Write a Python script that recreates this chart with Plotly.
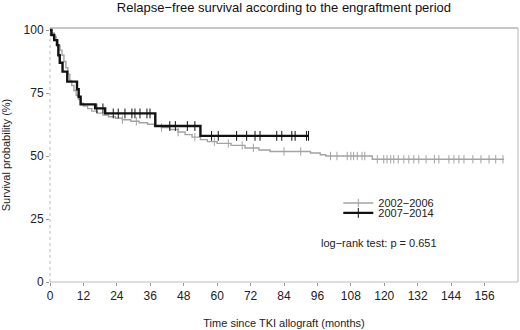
import numpy as np
import plotly.graph_objects as go

# ---- data ----
# 2002-2006 (grey): event times (months) and survival (%) after each drop
g_times = [0, 0.8, 1.5, 2.2, 2.9, 3.6, 4.3, 5.0, 5.7, 6.4, 7.1, 7.8, 8.6, 9.4, 10.2, 11.0,
           12.0, 13.5, 15.0, 17.0, 19.0, 21.0, 23.5, 26.0, 29.0, 32.0, 35.0, 37.5, 40.0,
           43.0, 46.0, 48.5, 51.0, 54.0, 56.5, 60.0, 65.0, 70.0, 75.0, 79.0, 93.5, 97.0,
           99.0, 115.7]
g_surv = [100, 98.8, 97.5, 96, 94, 92, 90, 87.5, 85, 82.5, 80, 78, 76, 74, 72.5, 71,
          69.8, 68.8, 67.8, 67, 66.3, 65.6, 65, 64.4, 63.8, 63.2, 62.6, 62, 61.3,
          60.5, 59.5, 58.5, 57.5, 56.5, 55.7, 55, 54.2, 53.2, 52.4, 51.8, 51.2, 50.5,
          50, 48.7]
g_end = 163
g_censor = [26, 31, 40, 46, 52, 59, 64, 69, 73, 84, 90, 100.7, 103, 106.7, 108, 109,
            110.3, 112, 113, 117.5, 119.8, 121, 122.3, 123.4, 125, 127, 128.8, 130.6,
            132.4, 135, 138, 139.6, 143.2, 145, 146.8, 148.6, 151.8, 154.7, 157.6, 160,
            162.6]

# 2007-2014 (black)
b_times = [0, 0.5, 1.5, 2.5, 3.0, 3.5, 4.5, 6.2, 9.7, 10.3, 11.0, 16.2, 19.8, 37.8, 54.0]
b_surv = [100, 98, 96, 94, 90, 87, 83.5, 79.5, 76.5, 73.5, 70.5, 68.9, 66.9, 61.9, 58.0]
b_end = 92.8
b_censor = [16.8, 19.0, 22.7, 24.5, 26.9, 29.4, 30.5, 32.3, 34.8, 35.9, 43, 45, 49.3,
            52, 58, 60.4, 67, 70.6, 73.6, 75.4, 81.4, 83.2, 86.8, 88, 92.1, 92.8]

x_ticks = [0, 12, 24, 36, 48, 60, 72, 84, 96, 108, 120, 132, 144, 156]
y_ticks = [0, 25, 50, 75, 100]
group_names = ["2002−2006", "2007−2014"]

GREY = "#a3a3a3"
BLACK = "#111111"
FONT = "Liberation Sans, Arial, sans-serif"


def surv_at(times, surv, t):
    idx = np.searchsorted(np.array(times), np.array(t), side="right") - 1
    return list(np.array(surv)[idx])


fig = go.Figure()

for times, surv, end, cens, col, lw, msz, name, leg in [
    (g_times, g_surv, g_end, g_censor, GREY, 1.4, 6, group_names[0], "legend"),
    (b_times, b_surv, b_end, b_censor, BLACK, 2.4, 7, group_names[1], "legend2"),
]:
    fig.add_trace(go.Scatter(
        x=times + [end], y=surv + [surv[-1]], mode="lines",
        line=dict(color=col, width=lw, shape="hv"),
        showlegend=False, hoverinfo="skip"))
    fig.add_trace(go.Scatter(
        x=cens, y=surv_at(times, surv, cens), mode="markers",
        marker=dict(symbol="line-ns", size=msz, line=dict(color=col, width=1)),
        showlegend=False, hoverinfo="skip"))
    # legend-only entry (line with censor tick)
    fig.add_trace(go.Scatter(
        x=[None], y=[None], mode="lines+markers", name=name, legend=leg,
        line=dict(color=col, width=lw),
        marker=dict(symbol="line-ns", size=msz, line=dict(color=col, width=1))))

leg_common = dict(xanchor="left", yanchor="middle", bgcolor="rgba(0,0,0,0)",
                  borderwidth=0, itemwidth=30,
                  font=dict(family=FONT, size=11, color="#222"))

fig.update_layout(
    width=520, height=330,
    margin=dict(l=50, r=2, t=28, b=48, autoexpand=False),
    paper_bgcolor="white", plot_bgcolor="white",
    font=dict(family=FONT, size=12, color="#222"),
    title=dict(text="Relapse−free survival according to the engraftment period",
               x=0.546, xanchor="center", y=0.977, yanchor="middle",
               font=dict(family=FONT, size=13, color="#111")),
    legend=dict(x=0.616, y=0.311, **leg_common),
    legend2=dict(x=0.616, y=0.272, **leg_common),
    xaxis=dict(range=[0, 168], tickvals=x_ticks, ticks="outside", ticklen=3,
               tickcolor="#999", showgrid=False, zeroline=False, showline=False,
               automargin=False,
               tickfont=dict(family=FONT, size=12, color="#222"),
               title=dict(text="Time since TKI allograft (months)", standoff=16,
                          font=dict(family=FONT, size=11, color="#222"))),
    yaxis=dict(range=[0, 100.8], tickvals=y_ticks, ticks="outside", ticklen=3,
               tickcolor="#999", showgrid=False, zeroline=False, showline=False,
               automargin=False,
               tickfont=dict(family=FONT, size=12, color="#222"),
               title=dict(text="Survival probability (%)", standoff=12,
                          font=dict(family=FONT, size=11, color="#222"))),
    annotations=[dict(text="log−rank test: p = 0.651", xref="paper", yref="paper",
                      x=0.575, y=0.154, xanchor="left", yanchor="middle",
                      showarrow=False, font=dict(family=FONT, size=11, color="#222"))],
    shapes=[
        dict(type="line", xref="paper", yref="paper", x0=0, x1=0, y0=0, y1=1,
             line=dict(color="#bbbbbb", width=1, dash="dot"), layer="below"),
        dict(type="line", xref="paper", yref="paper", x0=0, x1=1, y0=0, y1=0,
             line=dict(color="#bbbbbb", width=1), layer="below"),
        dict(type="line", xref="paper", yref="paper", x0=0, x1=1, y0=1, y1=1,
             line=dict(color="#b5b5b5", width=1.5), layer="below"),
        dict(type="line", xref="paper", yref="paper", x0=1, x1=1, y0=0, y1=1,
             line=dict(color="#b5b5b5", width=1), layer="below"),
    ],
)

fig.write_html("out.html",
               config={"displayModeBar": False},
               post_script="document.body.style.margin='0px';"
                           "document.body.style.overflow='hidden';")
